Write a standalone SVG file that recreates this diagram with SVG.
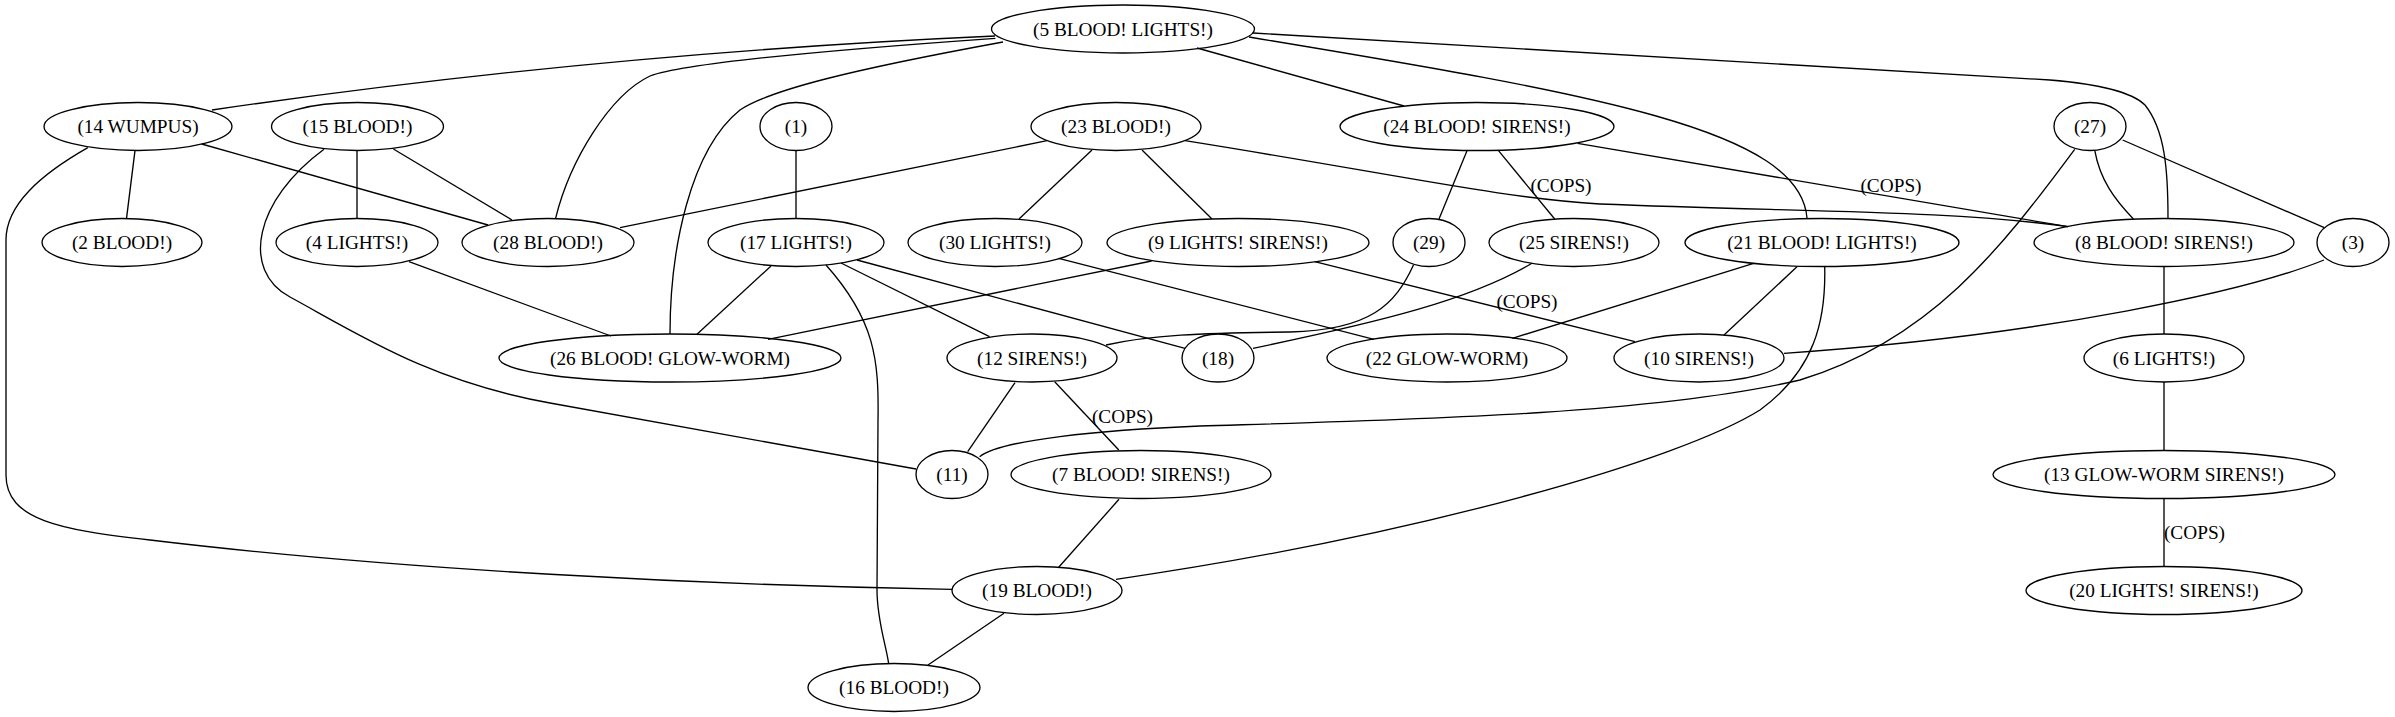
<svg xmlns="http://www.w3.org/2000/svg" width="2395" height="717" viewBox="0 0 2395 717">
<style>
.node ellipse{fill:none;stroke:#000;stroke-width:1.33}
text{font-family:"Liberation Serif","Times New Roman",serif;font-size:19.3px;text-anchor:middle;fill:#000}
#edges path{fill:none;stroke:#000;stroke-width:1.33}
</style>
<rect x="0" y="0" width="2395" height="717" fill="#fff"/>
<g id="edges">
<path d="M995,36 Q597.7,53.6 212,110"/>
<path d="M995.4,38.3 C800,52 680,65 650,76 C610,95 570,160 555.6,218.3"/>
<path d="M1003,42 C850,70 770,90 740,110 C690,150 670,250 670,334"/>
<path d="M1197,48 L1404,106"/>
<path d="M1249,37 C1600,95 1800,130 1807,218"/>
<path d="M1253,33 L2050,80 C2110,85 2135,95 2145,105 C2165,130 2168,170 2168,218"/>
<path d="M135,150.7 L126.5,218.7"/>
<path d="M201.7,144 L488,225"/>
<path d="M87.8,147.7 C40,175 6,205 6,240 L6,475 C6,520 60,530 150,540 C400,570 700,585 952,589.3"/>
<path d="M357,150.5 L357,218.5"/>
<path d="M393.4,149 L512,220"/>
<path d="M324,149.3 C255,200 240,270 290,297 C360,335 430,381.4 550,403 L916,469"/>
<path d="M796,150.5 L796,218.5"/>
<path d="M1047,140.7 L620,227.7"/>
<path d="M1092,150 L1019,219"/>
<path d="M1142,150 L1212,219"/>
<path d="M1185,140.7 C1400,175 1500,198 1600,204 C1800,212 1950,210 2068,226.7"/>
<path d="M1467,150.7 L1439,219"/>
<path d="M1498.5,150.7 L1554.7,219"/>
<path d="M1577.6,143.3 L2068,226.7"/>
<path d="M2094.8,150.7 C2100,180 2115,200 2133.4,219"/>
<path d="M2122.6,140 L2324.3,227.7"/>
<path d="M2074.7,149.3 C2000,250 1930,340 1800,380 C1650,415 1400,420 1200,426 C1100,430 1000,440 979.6,456.7"/>
<path d="M771,266 L697,334.3"/>
<path d="M826,265 C875,320 879,360 878,420 L877,590 C877,620 886,645 888.6,663.3"/>
<path d="M841,263 L989.5,336.7"/>
<path d="M857,260 L1185,348.3"/>
<path d="M1151.6,261 L768,339.3"/>
<path d="M1314.7,261.7 L1635,341.7"/>
<path d="M1058.7,258.3 L1374,339.3"/>
<path d="M1413.5,265 C1395,305 1370,330 1290,332 C1200,333 1150,335 1106,345"/>
<path d="M1532,263.3 C1470,300 1380,322 1253,348.3"/>
<path d="M1753.6,263.3 L1512.4,338.3"/>
<path d="M1797,266.7 L1724,335"/>
<path d="M1824.7,266.7 C1826,320 1815,370 1760,410 C1680,460 1420,535 1116,579.3"/>
<path d="M2164,266.5 L2164,334"/>
<path d="M2164,382 L2164,450.5"/>
<path d="M2164,498.5 L2164,566.5"/>
<path d="M2324,260 C2250,290 2050,335 1784,353.3"/>
<path d="M409,261.7 L611,336"/>
<path d="M1015,382.7 L967.7,451.7"/>
<path d="M1054.7,381.7 L1118.8,450"/>
<path d="M1119,499.3 L1058.7,567.3"/>
<path d="M1004,613.3 L928,665"/>
<text x="1561" y="191.5">(COPS)</text>
<text x="1891" y="191.5">(COPS)</text>
<text x="1527" y="308">(COPS)</text>
<text x="1122.5" y="423">(COPS)</text>
<text x="2194.5" y="539">(COPS)</text>
</g>
<g id="n5" class="node"><ellipse cx="1123" cy="29" rx="131.5" ry="24"/><text x="1123" y="35.5">(5 BLOOD! LIGHTS!)</text></g>
<g id="n14" class="node"><ellipse cx="138" cy="126.5" rx="94" ry="24"/><text x="138" y="133">(14 WUMPUS)</text></g>
<g id="n15" class="node"><ellipse cx="357.5" cy="126.5" rx="86" ry="24"/><text x="357.5" y="133">(15 BLOOD!)</text></g>
<g id="n1" class="node"><ellipse cx="796" cy="126.5" rx="36" ry="24"/><text x="796" y="133">(1)</text></g>
<g id="n23" class="node"><ellipse cx="1116" cy="126.5" rx="85" ry="24"/><text x="1116" y="133">(23 BLOOD!)</text></g>
<g id="n24" class="node"><ellipse cx="1477" cy="126.5" rx="137" ry="24"/><text x="1477" y="133">(24 BLOOD! SIRENS!)</text></g>
<g id="n27" class="node"><ellipse cx="2090" cy="126.5" rx="36" ry="24"/><text x="2090" y="133">(27)</text></g>
<g id="n2" class="node"><ellipse cx="122" cy="242.5" rx="80" ry="24"/><text x="122" y="249">(2 BLOOD!)</text></g>
<g id="n4" class="node"><ellipse cx="357" cy="242.5" rx="81" ry="24"/><text x="357" y="249">(4 LIGHTS!)</text></g>
<g id="n28" class="node"><ellipse cx="548" cy="242.5" rx="86" ry="24"/><text x="548" y="249">(28 BLOOD!)</text></g>
<g id="n17" class="node"><ellipse cx="796" cy="242.5" rx="88" ry="24"/><text x="796" y="249">(17 LIGHTS!)</text></g>
<g id="n30" class="node"><ellipse cx="995" cy="242.5" rx="87" ry="24"/><text x="995" y="249">(30 LIGHTS!)</text></g>
<g id="n9" class="node"><ellipse cx="1238" cy="242.5" rx="131" ry="24"/><text x="1238" y="249">(9 LIGHTS! SIRENS!)</text></g>
<g id="n29" class="node"><ellipse cx="1429" cy="242.5" rx="36" ry="24"/><text x="1429" y="249">(29)</text></g>
<g id="n25" class="node"><ellipse cx="1574" cy="242.5" rx="85" ry="24"/><text x="1574" y="249">(25 SIRENS!)</text></g>
<g id="n21" class="node"><ellipse cx="1822" cy="242.5" rx="137" ry="24"/><text x="1822" y="249">(21 BLOOD! LIGHTS!)</text></g>
<g id="n8" class="node"><ellipse cx="2164" cy="242.5" rx="130" ry="24"/><text x="2164" y="249">(8 BLOOD! SIRENS!)</text></g>
<g id="n3" class="node"><ellipse cx="2353" cy="242.5" rx="36" ry="24"/><text x="2353" y="249">(3)</text></g>
<g id="n26" class="node"><ellipse cx="670" cy="358" rx="171" ry="24"/><text x="670" y="364.5">(26 BLOOD! GLOW-WORM)</text></g>
<g id="n12" class="node"><ellipse cx="1032" cy="358" rx="85" ry="24"/><text x="1032" y="364.5">(12 SIRENS!)</text></g>
<g id="n18" class="node"><ellipse cx="1218" cy="358" rx="36" ry="24"/><text x="1218" y="364.5">(18)</text></g>
<g id="n22" class="node"><ellipse cx="1447" cy="358" rx="120" ry="24"/><text x="1447" y="364.5">(22 GLOW-WORM)</text></g>
<g id="n10" class="node"><ellipse cx="1699" cy="358" rx="85" ry="24"/><text x="1699" y="364.5">(10 SIRENS!)</text></g>
<g id="n6" class="node"><ellipse cx="2164" cy="358" rx="80" ry="24"/><text x="2164" y="364.5">(6 LIGHTS!)</text></g>
<g id="n11" class="node"><ellipse cx="952" cy="474.5" rx="36" ry="24"/><text x="952" y="481">(11)</text></g>
<g id="n7" class="node"><ellipse cx="1141" cy="474.5" rx="130" ry="24"/><text x="1141" y="481">(7 BLOOD! SIRENS!)</text></g>
<g id="n13" class="node"><ellipse cx="2164" cy="474.5" rx="171" ry="24"/><text x="2164" y="481">(13 GLOW-WORM SIRENS!)</text></g>
<g id="n19" class="node"><ellipse cx="1037" cy="590.5" rx="85" ry="24"/><text x="1037" y="597">(19 BLOOD!)</text></g>
<g id="n20" class="node"><ellipse cx="2164" cy="590.5" rx="138" ry="24"/><text x="2164" y="597">(20 LIGHTS! SIRENS!)</text></g>
<g id="n16" class="node"><ellipse cx="894" cy="687.5" rx="86" ry="24"/><text x="894" y="694">(16 BLOOD!)</text></g>
</svg>
